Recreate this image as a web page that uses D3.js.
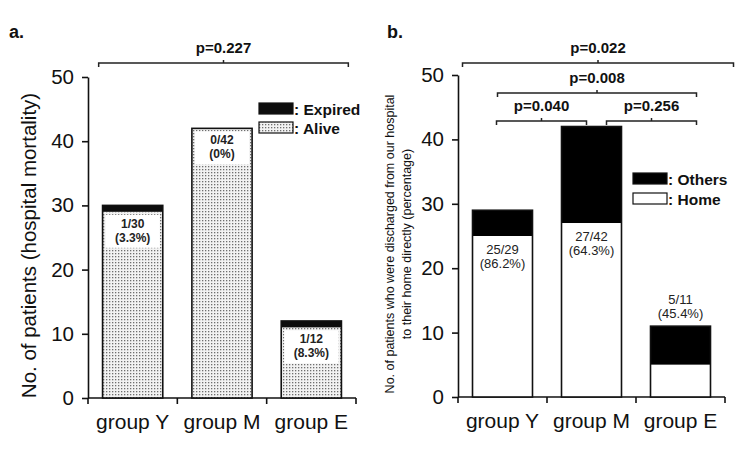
<!DOCTYPE html>
<html>
<head>
<meta charset="utf-8">
<script src="https://cdn.jsdelivr.net/npm/d3@7"></script>
<style>
  body { margin: 0; background: #fff; }
  svg { font-family: "Liberation Sans", Arial, sans-serif; }
</style>
</head>
<body>
<div id="chart"></div>
<script>
// data
var groups = ["group Y", "group M", "group E"];
var yTicks = [0, 10, 20, 30, 40, 50];

// panel a: hospital mortality
var aliveCounts = [29, 42, 11];
var expiredCounts = [1, 0, 1];
var mortalityText = ["1/30", "0/42", "1/12"];
var mortalityPct = ["(3.3%)", "(0%)", "(8.3%)"];
var legendA = [": Expired", ": Alive"];
var pTestsA = [{ from: "group Y", to: "group E", label: "p=0.227" }];

// panel b: discharge destination
var homeCounts = [25, 27, 5];
var otherCounts = [4, 15, 6];
var dischargeText = ["25/29", "27/42", "5/11"];
var dischargePct = ["(86.2%)", "(64.3%)", "(45.4%)"];
var legendB = [": Others", ": Home"];
var pTestsB = [
    { from: "group Y", to: "group E", label: "p=0.022" },
    { from: "group Y", to: "group E", label: "p=0.008" },
    { from: "group Y", to: "group M", label: "p=0.040" },
    { from: "group M", to: "group E", label: "p=0.256" }
];

var svg = d3.select("#chart").append("svg")
    .attr("width", 750)
    .attr("height", 460);

var defs = svg.append("defs");
var pat = defs.append("pattern")
    .attr("id", "dots")
    .attr("width", 3).attr("height", 3)
    .attr("patternUnits", "userSpaceOnUse");
pat.append("rect").attr("width", 3).attr("height", 3).attr("fill", "#f2f2f2");
pat.append("rect").attr("x", 1).attr("y", 1).attr("width", 1.3).attr("height", 1.3).attr("fill", "#6e6e6e");

var ink = "#111";

function drawAxes(x, y, yLabelLines, yLabelSize, yLabelX) {
    var x0 = x.range()[0], x1 = x.range()[1];

    var yAxis = svg.append("g")
        .attr("transform", "translate(" + x0 + ",0)")
        .call(d3.axisLeft(y).tickValues(yTicks).tickSize(6).tickPadding(8).tickSizeOuter(0));
    yAxis.select(".domain").attr("stroke", ink).attr("stroke-width", 1.6);
    yAxis.selectAll(".tick line").attr("stroke", ink).attr("stroke-width", 1.6);
    yAxis.selectAll(".tick text")
        .attr("font-size", 20.5).attr("fill", ink)
        .attr("font-family", "Liberation Sans, Arial, sans-serif");

    // category labels
    var xAxis = svg.append("g")
        .attr("transform", "translate(0," + y(0) + ")")
        .call(d3.axisBottom(x).tickSize(0).tickPadding(16));
    xAxis.select(".domain").remove();
    xAxis.selectAll(".tick text")
        .attr("font-size", 21).attr("fill", ink)
        .attr("font-family", "Liberation Sans, Arial, sans-serif");

    // baseline with ticks at band boundaries
    svg.append("line")
        .attr("x1", x0).attr("x2", x1)
        .attr("y1", y(0)).attr("y2", y(0))
        .attr("stroke", ink).attr("stroke-width", 1.6);
    var edges = d3.range(groups.length + 1).map(function (i) { return x0 + i * x.step(); });
    svg.selectAll(null).data(edges).enter().append("line")
        .attr("x1", d => d).attr("x2", d => d)
        .attr("y1", y(0)).attr("y2", y(0) + 6)
        .attr("stroke", ink).attr("stroke-width", 1.6);

    var cy = (y(0) + y(50)) / 2 + 8;
    var lab = svg.append("text")
        .attr("transform", "translate(" + yLabelX + "," + cy + ") rotate(-90)")
        .attr("text-anchor", "middle")
        .attr("font-size", yLabelSize)
        .attr("fill", ink);
    lab.selectAll("tspan").data(yLabelLines).enter().append("tspan")
        .attr("x", 0)
        .attr("dy", (d, i) => i === 0 ? 0 : yLabelSize * 1.38)
        .text(d => d);
}

function drawBrackets(x, tests, levels, spans) {
    tests.forEach(function (t, i) {
        var xa = x(t.from) + x.bandwidth() / 2 + spans[i][0];
        var xb = x(t.to) + x.bandwidth() / 2 + spans[i][1];
        var yy = levels[i];
        var mid = (xa + xb) / 2;
        var g = svg.append("g").attr("stroke", "#222").attr("stroke-width", 1.5).attr("fill", "none");
        g.append("path")
            .attr("d", "M" + xa + "," + (yy + 4) + "V" + yy + "H" + xb + "V" + (yy + 4));
        g.append("line")
            .attr("x1", mid).attr("x2", mid)
            .attr("y1", yy).attr("y2", yy - 3);
        svg.append("text")
            .attr("x", mid).attr("y", yy - 10)
            .attr("text-anchor", "middle")
            .attr("font-size", 15).attr("font-weight", "bold")
            .attr("fill", ink)
            .text(t.label);
    });
}

function drawLegend(items, fills, lx, ly, gap) {
    items.forEach(function (name, i) {
        svg.append("rect")
            .attr("x", lx).attr("y", ly + i * gap)
            .attr("width", 34).attr("height", 11)
            .attr("fill", fills[i]).attr("stroke", ink).attr("stroke-width", 1.2);
        svg.append("text")
            .attr("x", lx + 35).attr("y", ly + i * gap + 6)
            .attr("dominant-baseline", "central")
            .attr("font-size", 15.5).attr("font-weight", "bold")
            .attr("fill", ink)
            .text(name);
    });
}

// ---------- panel a ----------
var xA = d3.scaleBand().domain(groups).range([88, 356]).paddingInner(0.326).paddingOuter(0.163);
var yA = d3.scaleLinear().domain([0, 50]).range([398, 77]);

svg.append("text").attr("x", 9).attr("y", 38)
    .attr("font-size", 18).attr("font-weight", "bold").attr("fill", ink).text("a.");

drawAxes(xA, yA, ["No. of patients (hospital mortality)"], 20.5, 36);

var barsA = svg.append("g");
groups.forEach(function (g, i) {
    var bx = xA(g), bw = xA.bandwidth();
    var top = aliveCounts[i] + expiredCounts[i];
    // alive
    barsA.append("rect")
        .attr("x", bx).attr("y", yA(aliveCounts[i]))
        .attr("width", bw).attr("height", yA(0) - yA(aliveCounts[i]))
        .attr("fill", "url(#dots)");
    // label background inside alive part
    barsA.append("rect")
        .attr("x", bx + 3).attr("y", yA(aliveCounts[i]) + 3)
        .attr("width", bw - 6).attr("height", 33)
        .attr("fill", "#fff");
    // expired
    if (expiredCounts[i] > 0) {
        barsA.append("rect")
            .attr("x", bx).attr("y", yA(top))
            .attr("width", bw).attr("height", yA(aliveCounts[i]) - yA(top))
            .attr("fill", "#0d0d0d");
    }
    barsA.append("rect")
        .attr("x", bx).attr("y", yA(top))
        .attr("width", bw).attr("height", yA(0) - yA(top))
        .attr("fill", "none").attr("stroke", ink).attr("stroke-width", 1.6);
    barsA.append("text")
        .attr("x", bx + bw / 2).attr("y", yA(aliveCounts[i]) + 16)
        .attr("text-anchor", "middle").attr("font-size", 12).attr("font-weight", "bold")
        .attr("fill", "#222").text(mortalityText[i]);
    barsA.append("text")
        .attr("x", bx + bw / 2).attr("y", yA(aliveCounts[i]) + 30)
        .attr("text-anchor", "middle").attr("font-size", 12).attr("font-weight", "bold")
        .attr("fill", "#222").text(mortalityPct[i]);
});

drawBrackets(xA, pTestsA, [63], [[-34, 37]]);
drawLegend(legendA, ["#0d0d0d", "url(#dots)"], 259, 103, 19);

// ---------- panel b ----------
var xB = d3.scaleBand().domain(groups).range([458, 725]).paddingInner(0.326).paddingOuter(0.163);
var yB = d3.scaleLinear().domain([0, 50]).range([397, 75]);

svg.append("text").attr("x", 387).attr("y", 38)
    .attr("font-size", 18).attr("font-weight", "bold").attr("fill", ink).text("b.");

drawAxes(xB, yB, ["No. of patients who were discharged from our hospital",
    "to their home directly (percentage)"], 12.5, 394);

var barsB = svg.append("g");
groups.forEach(function (g, i) {
    var bx = xB(g), bw = xB.bandwidth();
    var total = homeCounts[i] + otherCounts[i];
    barsB.append("rect")
        .attr("x", bx).attr("y", yB(total))
        .attr("width", bw).attr("height", yB(homeCounts[i]) - yB(total))
        .attr("fill", "#000");
    barsB.append("rect")
        .attr("x", bx).attr("y", yB(homeCounts[i]))
        .attr("width", bw).attr("height", yB(0) - yB(homeCounts[i]))
        .attr("fill", "#fff");
    barsB.append("rect")
        .attr("x", bx).attr("y", yB(total))
        .attr("width", bw).attr("height", yB(0) - yB(total))
        .attr("fill", "none").attr("stroke", ink).attr("stroke-width", 1.6);
    // last group has its label above the bar
    var above = i === groups.length - 1;
    var ly = above ? yB(total) - 22 : yB(homeCounts[i]) + 18;
    barsB.append("text")
        .attr("x", bx + bw / 2).attr("y", ly)
        .attr("text-anchor", "middle").attr("font-size", 13)
        .attr("fill", "#222").text(dischargeText[i]);
    barsB.append("text")
        .attr("x", bx + bw / 2).attr("y", ly + 14)
        .attr("text-anchor", "middle").attr("font-size", 13)
        .attr("fill", "#222").text(dischargePct[i]);
});

drawBrackets(xB, pTestsB, [63, 93, 121, 121], [[-40, 53], [-5, 16], [-6, -5], [15, 16]]);
drawLegend(legendB, ["#000", "#fff"], 633, 173, 20);
</script>
</body>
</html>
